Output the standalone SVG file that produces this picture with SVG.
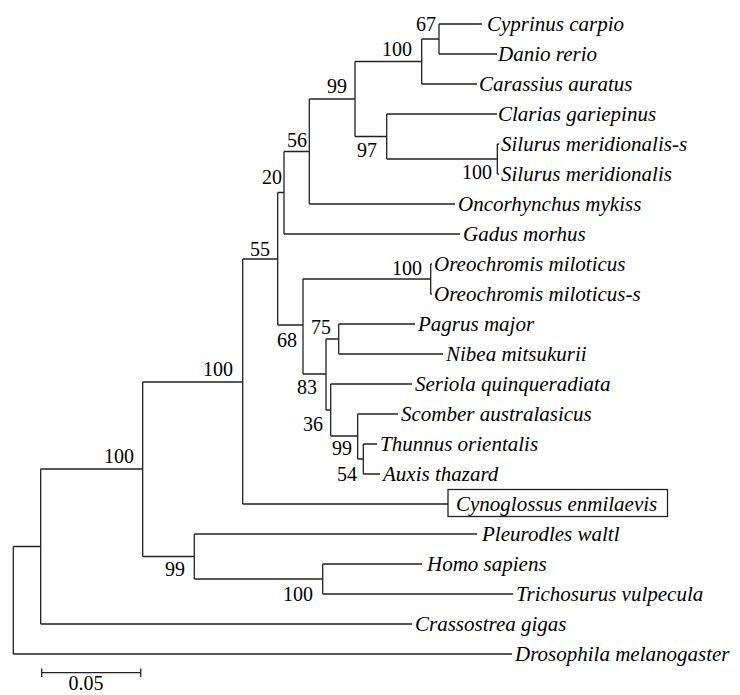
<svg xmlns="http://www.w3.org/2000/svg" width="740" height="695" viewBox="0 0 740 695">
<rect width="740" height="695" fill="#fff"/>
<g id="connectors" fill="none" stroke="#222" stroke-width="1.3">
<path d="M13.3 546.5V654M13.3 546.5H40.7M13.3 654H512"/>
<path d="M40.7 469V624M40.7 469H142.7M40.7 624H412"/>
<path d="M142.7 382V556.5M142.7 382H242.7M142.7 556.5H194.3"/>
<path d="M194.3 534V579M194.3 534H477M194.3 579H322.7"/>
<path d="M322.7 564V594M322.7 564H422M322.7 594H513"/>
<path d="M242.7 259V504M242.7 259H277.7M242.7 504H448"/>
<path d="M277.7 192.5V325M277.7 192.5H284M277.7 325H303"/>
<path d="M284 151.5V234M284 151.5H309.3M284 234H460"/>
<path d="M309.3 99V204M309.3 99H355M309.3 204H455"/>
<path d="M355 61.5V136.5M355 61.5H421.7M355 136.5H386.7"/>
<path d="M421.7 39V84M421.7 39H439M421.7 84H477"/>
<path d="M439 24V54M439 24H482M439 54H497"/>
<path d="M386.7 114V159M386.7 114H497M386.7 159H497.3"/>
<path d="M497.3 144V174M497.3 144H499M497.3 174H499"/>
<path d="M303 279V374M303 279H430.7M303 374H326"/>
<path d="M430.7 264V294M430.7 264H432M430.7 294H432"/>
<path d="M326 339V410M326 339H338.7M326 410H330.7"/>
<path d="M338.7 324V354M338.7 324H415M338.7 354H443"/>
<path d="M330.7 384V436M330.7 384H412M330.7 436H357.7"/>
<path d="M357.7 414V459M357.7 414H398M357.7 459H363.3"/>
<path d="M363.3 444V474M363.3 444H377M363.3 474H380"/>
</g>
<g id="leaf-cyprinus"><text x="487" y="31" font-size="21" font-family="Liberation Serif" font-style="italic">Cyprinus carpio</text></g>
<g id="leaf-danio"><text x="498" y="61" font-size="21" font-family="Liberation Serif" font-style="italic">Danio rerio</text></g>
<g id="leaf-carassius"><text x="479" y="91" font-size="21" font-family="Liberation Serif" font-style="italic">Carassius auratus</text></g>
<g id="leaf-clarias"><text x="498" y="121" font-size="21" font-family="Liberation Serif" font-style="italic">Clarias gariepinus</text></g>
<g id="leaf-silurus-s"><text x="501" y="151" font-size="21" font-family="Liberation Serif" font-style="italic">Silurus meridionalis-s</text></g>
<g id="leaf-silurus"><text x="501" y="181" font-size="21" font-family="Liberation Serif" font-style="italic">Silurus meridionalis</text></g>
<g id="leaf-oncorhynchus"><text x="458" y="211" font-size="21" font-family="Liberation Serif" font-style="italic">Oncorhynchus mykiss</text></g>
<g id="leaf-gadus"><text x="463" y="241" font-size="21" font-family="Liberation Serif" font-style="italic">Gadus morhus</text></g>
<g id="leaf-oreochromis"><text x="434" y="271" font-size="21" font-family="Liberation Serif" font-style="italic">Oreochromis miloticus</text></g>
<g id="leaf-oreochromis-s"><text x="434" y="301" font-size="21" font-family="Liberation Serif" font-style="italic">Oreochromis miloticus-s</text></g>
<g id="leaf-pagrus"><text x="418" y="331" font-size="21" font-family="Liberation Serif" font-style="italic">Pagrus major</text></g>
<g id="leaf-nibea"><text x="446" y="361" font-size="21" font-family="Liberation Serif" font-style="italic">Nibea mitsukurii</text></g>
<g id="leaf-seriola"><text x="415" y="391" font-size="21" font-family="Liberation Serif" font-style="italic">Seriola quinqueradiata</text></g>
<g id="leaf-scomber"><text x="401" y="421" font-size="21" font-family="Liberation Serif" font-style="italic">Scomber australasicus</text></g>
<g id="leaf-thunnus"><text x="380" y="451" font-size="21" font-family="Liberation Serif" font-style="italic">Thunnus orientalis</text></g>
<g id="leaf-auxis"><text x="383" y="481" font-size="21" font-family="Liberation Serif" font-style="italic">Auxis thazard</text></g>
<g id="leaf-cynoglossus"><rect x="448" y="489.5" width="219.5" height="27" fill="none" stroke="#222" stroke-width="1.3"/><text x="456" y="511" font-size="21" font-family="Liberation Serif" font-style="italic">Cynoglossus enmilaevis</text></g>
<g id="leaf-pleurodles"><text x="482" y="541" font-size="21" font-family="Liberation Serif" font-style="italic">Pleurodles waltl</text></g>
<g id="leaf-homo"><text x="427" y="571" font-size="21" font-family="Liberation Serif" font-style="italic">Homo sapiens</text></g>
<g id="leaf-trichosurus"><text x="516" y="601" font-size="21" font-family="Liberation Serif" font-style="italic">Trichosurus vulpecula</text></g>
<g id="leaf-crassostrea"><text x="415" y="631" font-size="21" font-family="Liberation Serif" font-style="italic">Crassostrea gigas</text></g>
<g id="leaf-drosophila"><text x="515" y="661" font-size="21" font-family="Liberation Serif" font-style="italic">Drosophila melanogaster</text></g>
<g id="node-67"><text x="436" y="31" font-size="20" font-family="Liberation Serif" text-anchor="end">67</text></g>
<g id="node-100a"><text x="412" y="56" font-size="20" font-family="Liberation Serif" text-anchor="end">100</text></g>
<g id="node-99a"><text x="347" y="93" font-size="20" font-family="Liberation Serif" text-anchor="end">99</text></g>
<g id="node-97"><text x="377" y="157" font-size="20" font-family="Liberation Serif" text-anchor="end">97</text></g>
<g id="node-100b"><text x="492" y="179" font-size="20" font-family="Liberation Serif" text-anchor="end">100</text></g>
<g id="node-56"><text x="307" y="146.5" font-size="20" font-family="Liberation Serif" text-anchor="end">56</text></g>
<g id="node-20"><text x="282" y="184" font-size="20" font-family="Liberation Serif" text-anchor="end">20</text></g>
<g id="node-55"><text x="270" y="255.5" font-size="20" font-family="Liberation Serif" text-anchor="end">55</text></g>
<g id="node-100c"><text x="422" y="275" font-size="20" font-family="Liberation Serif" text-anchor="end">100</text></g>
<g id="node-75"><text x="331" y="334" font-size="20" font-family="Liberation Serif" text-anchor="end">75</text></g>
<g id="node-68"><text x="297" y="346.7" font-size="20" font-family="Liberation Serif" text-anchor="end">68</text></g>
<g id="node-83"><text x="317" y="394" font-size="20" font-family="Liberation Serif" text-anchor="end">83</text></g>
<g id="node-36"><text x="323" y="430.7" font-size="20" font-family="Liberation Serif" text-anchor="end">36</text></g>
<g id="node-99b"><text x="352" y="455" font-size="20" font-family="Liberation Serif" text-anchor="end">99</text></g>
<g id="node-54"><text x="357" y="481" font-size="20" font-family="Liberation Serif" text-anchor="end">54</text></g>
<g id="node-100d"><text x="233" y="376" font-size="20" font-family="Liberation Serif" text-anchor="end">100</text></g>
<g id="node-100e"><text x="134" y="462.7" font-size="20" font-family="Liberation Serif" text-anchor="end">100</text></g>
<g id="node-99c"><text x="185" y="576" font-size="20" font-family="Liberation Serif" text-anchor="end">99</text></g>
<g id="node-100f"><text x="313" y="600.7" font-size="20" font-family="Liberation Serif" text-anchor="end">100</text></g>
<g id="scale-bar">
<path d="M41.7 672.7H140.7M41.7 668.5V677M140.7 668.5V677" fill="none" stroke="#222" stroke-width="1.3"/>
<text x="86" y="690" font-size="20" font-family="Liberation Serif" text-anchor="middle">0.05</text>
</g>
</svg>
